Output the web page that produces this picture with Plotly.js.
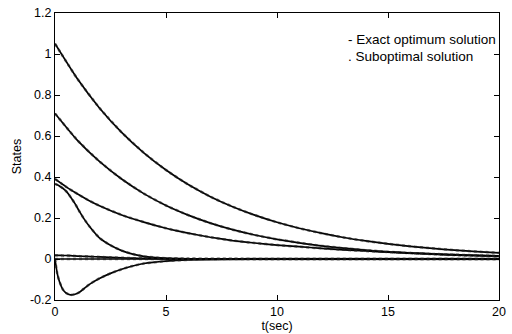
<!DOCTYPE html>
<html>
<head>
<meta charset="utf-8">
<script src="https://cdn.plot.ly/plotly-3.0.1.min.js"></script>
<style>html,body{margin:0;padding:0;background:#fff;}#chart{width:512px;height:334px;}</style>
</head>
<body>
<div id="chart"></div>
<script>
// Time samples for slow states
var tSlow = [0,1,2,3,4,5,6,7,8,9,10,11,12,13,14,15,16,17,18,19,20];
var state1 = [1.05,0.88,0.737,0.618,0.518,0.434,0.363,0.304,0.255,0.214,0.179,0.150,0.126,0.105,0.088,0.074,0.062,0.052,0.043,0.036,0.030];
var state2 = [0.71,0.58,0.476,0.39,0.319,0.261,0.214,0.175,0.143,0.117,0.096,0.079,0.064,0.053,0.043,0.035,0.029,0.024,0.019,0.016,0.013];
var tMid = [0,0.5,1,1.5,2,3,4,5,6,7,8,9,10,11,12,13,14,15,16,17,18,19,20];
var state3 = [0.39,0.352,0.318,0.287,0.26,0.215,0.18,0.15,0.126,0.106,0.09,0.078,0.068,0.06,0.052,0.045,0.039,0.034,0.029,0.025,0.021,0.018,0.015];
// Time samples for fast states
var tFast = [0,0.1,0.2,0.35,0.5,0.7,0.9,1.1,1.3,1.6,2,2.5,3,3.5,4,5,6,8,10,15,20];
var state4 = [0.366,0.362,0.356,0.345,0.331,0.303,0.27,0.232,0.197,0.152,0.103,0.067,0.041,0.024,0.013,0.004,0.001,0,0,0,0];
var state5 = [0,-0.07,-0.11,-0.148,-0.166,-0.175,-0.172,-0.162,-0.145,-0.12,-0.095,-0.07,-0.05,-0.034,-0.022,-0.01,-0.004,-0.001,0,0,0];
var state6 = [0.018,0.018,0.018,0.017,0.017,0.016,0.015,0.014,0.013,0.012,0.01,0.008,0.006,0.004,0.003,0.001,0,0,0,0,0];
var state7 = [0,0,0,0,0,0,0,0,0,0,0,0,0,0,0,0,0,0,0,0,0];

var legendLines = ["- Exact optimum solution", ". Suboptimal solution"];
var yTicks = [-0.2,0,0.2,0.4,0.6,0.8,1,1.2];
var yTickText = ["-0.2","0","0.2","0.4","0.6","0.8","1","1.2"];

var series = [
  {t: tSlow, y: state1}, {t: tSlow, y: state2}, {t: tMid, y: state3},
  {t: tFast, y: state4}, {t: tFast, y: state5}, {t: tFast, y: state6}, {t: tFast, y: state7}
];
var traces = [];
series.forEach(function(s){
  traces.push({x: s.t, y: s.y, type: 'scatter', mode: 'lines', line: {color: '#000', width: 1.7, shape: 'spline', smoothing: 0.5}, hoverinfo: 'skip'});
  traces.push({x: s.t, y: s.y, type: 'scatter', mode: 'lines', line: {color: '#222', width: 2.5, dash: 'dot', shape: 'spline', smoothing: 0.5}, opacity: 0.6, hoverinfo: 'skip'});
});

var fontFam = 'Liberation Sans, Arial, sans-serif';
var axisCommon = {
  showgrid: false, zeroline: false, showline: true, linecolor: '#000', linewidth: 1,
  mirror: 'ticks', ticks: 'inside', ticklen: 5, tickcolor: '#000',
  tickfont: {family: fontFam, size: 12.5, color: '#000'},
  automargin: false
};
var layout = {
  width: 512, height: 334,
  margin: {l: 55, r: 13, t: 13, b: 34},
  paper_bgcolor: '#fff', plot_bgcolor: '#fff',
  showlegend: false,
  font: {family: fontFam, size: 12.5, color: '#000'},
  xaxis: Object.assign({}, axisCommon, {range: [0,20], tickvals: [0,5,10,15,20],
    title: {text: 't(sec)', font: {size: 12.5}, standoff: 0}}),
  yaxis: Object.assign({}, axisCommon, {range: [-0.2,1.2], tickvals: yTicks, ticktext: yTickText,
    title: {text: 'States', font: {size: 12.5}, standoff: 5}}),
  annotations: [
    {xref: 'paper', yref: 'paper', x: 0.655, y: 0.909, xanchor: 'left', yanchor: 'middle', showarrow: false, text: legendLines[0], font: {size: 13.5}},
    {xref: 'paper', yref: 'paper', x: 0.655, y: 0.850, xanchor: 'left', yanchor: 'middle', showarrow: false, text: legendLines[1], font: {size: 13.5}}
  ]
};
Plotly.newPlot('chart', traces, layout, {staticPlot: true, displayModeBar: false});
</script>
</body>
</html>
